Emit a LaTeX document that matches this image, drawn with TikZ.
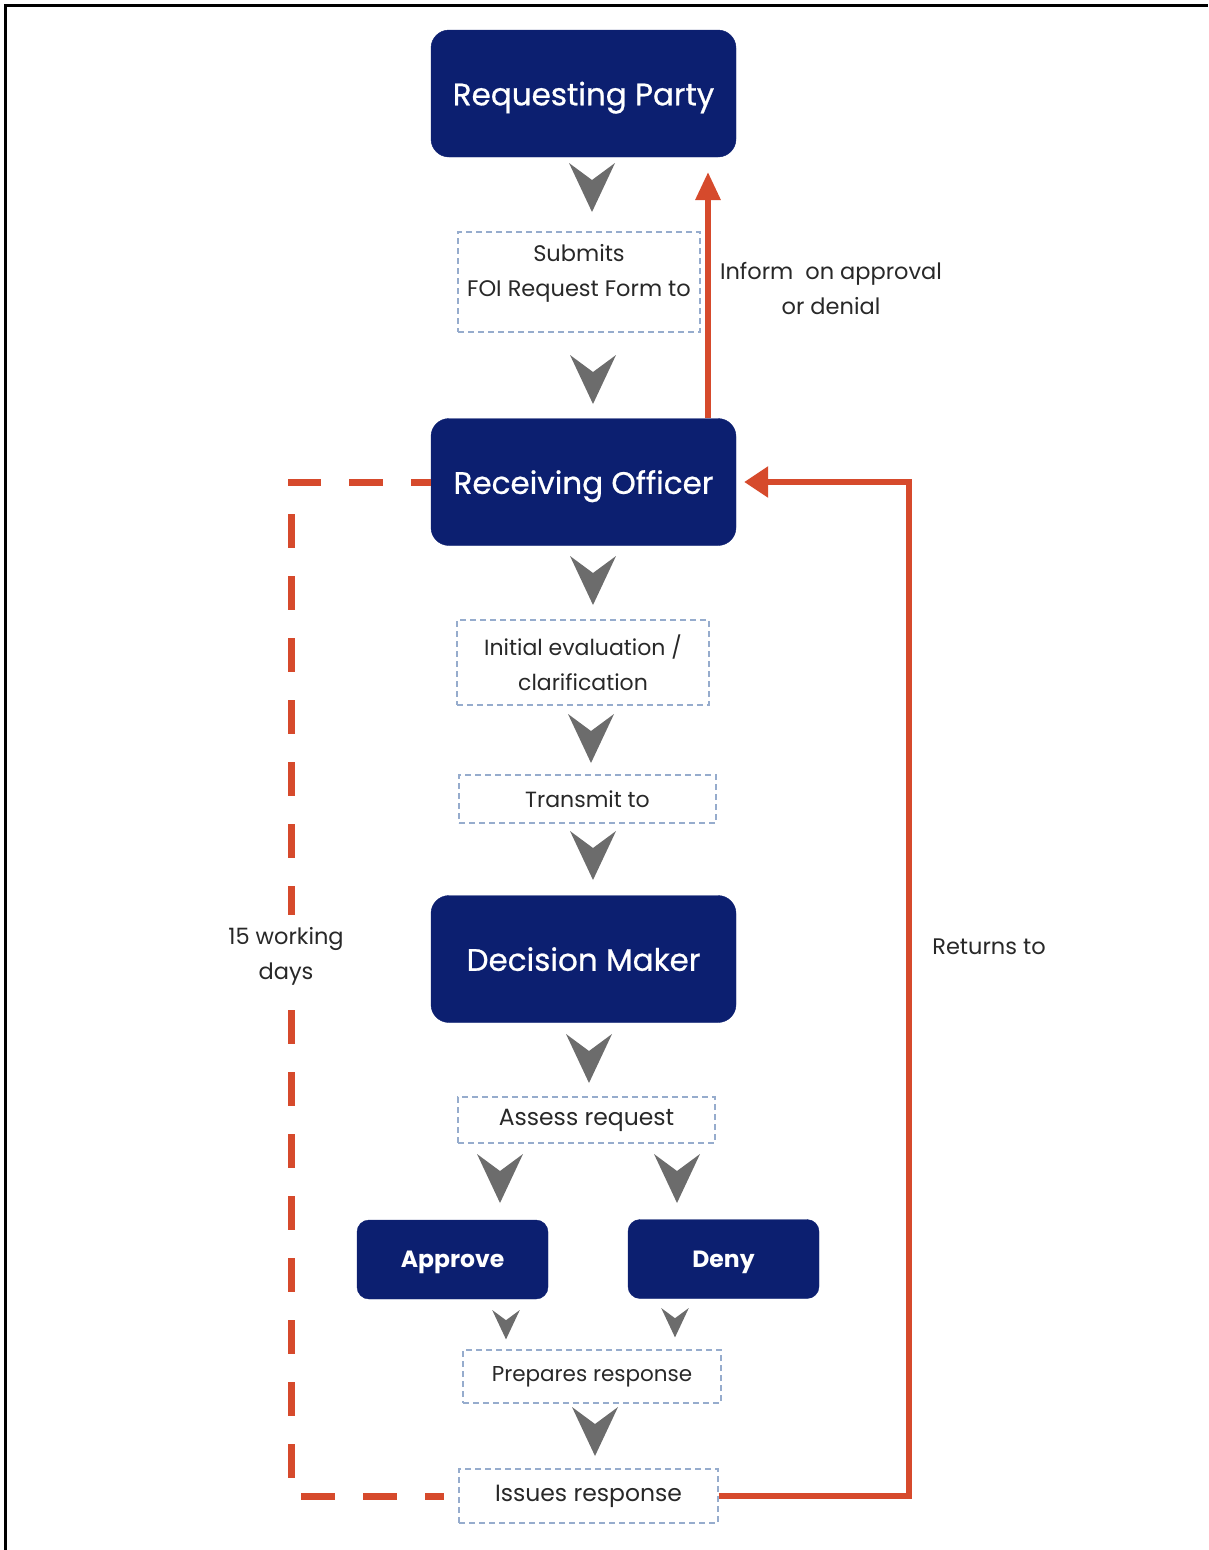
\documentclass[tikz,border=0pt]{standalone}
\usepackage{fontspec}
\setmainfont{Poppins}
\newfontfamily\titlefont{Poppins}[FakeBold=0.7]
\usetikzlibrary{arrows.meta,calc}
\definecolor{navy}{RGB}{12,31,112}
\definecolor{redo}{RGB}{214,74,44}
\definecolor{chevgray}{RGB}{108,108,108}
\definecolor{dashblue}{RGB}{150,172,205}
\definecolor{txt}{RGB}{40,40,40}
\begin{document}
\begin{tikzpicture}[x=1pt,y=-1pt,
  bigbox/.style={draw=navy, fill=navy, rounded corners=18pt, text=white,
    minimum width=305pt, minimum height=127pt, inner sep=0pt, text depth=0pt,
    font=\titlefont\fontsize{31}{36}\selectfont},
  smallbox/.style={draw=navy, fill=navy, rounded corners=12pt, text=white,
    minimum width=191pt, minimum height=79pt, inner sep=0pt, text depth=0pt,
    font=\bfseries\fontsize{23.5}{28}\selectfont},
  dbox/.style={draw=dashblue, dash pattern=on 6pt off 4pt, line width=1.3pt,
    text=txt, align=center, inner sep=0pt, font=\fontsize{22}{35}\selectfont},
  lbl/.style={text=txt, align=center, inner sep=2pt, font=\fontsize{22.5}{35}\selectfont},
  redline/.style={draw=redo, line width=6pt},
  reddash/.style={draw=redo, line width=7pt, dash pattern=on 34pt off 28pt, dash phase=14pt},
  chev/.pic={\fill[chevgray] (-23,-25) -- (0,-8) -- (23,-25) -- (0,24) -- cycle;}
]
\useasboundingbox (0,0) rectangle (1208,1550);
\draw[line width=3pt] (5.5,1550) -- (5.5,5.5) -- (1208,5.5);

% main boxes
\node[bigbox] (rp) at (583.5,93.5) {Requesting Party};
\node[bigbox] (ro) at (583.5,482) {Receiving Officer};
\node[bigbox] (dm) at (583.5,959) {Decision Maker};
\node[smallbox] (ap) at (452.5,1259.5) {Approve};
\node[smallbox] (dn) at (723.5,1259) {Deny};

% dashed step boxes
\node[dbox, minimum width=242pt, minimum height=100pt] (sub) at (579,282) {};
\node[lbl] (subt) at (579,273.5) {Submits\\FOI Request Form to};
\node[dbox, minimum width=252pt, minimum height=85pt] (ie) at (583,662.5) {Initial evaluation /\\clarification};
\node[dbox, minimum width=257pt, minimum height=48pt] (tr) at (587.5,799) {Transmit to};
\node[dbox, minimum width=257pt, minimum height=46pt, font=\fontsize{23.5}{28}\selectfont] (ar) at (586.5,1120) {Assess request};
\node[dbox, minimum width=258pt, minimum height=53pt, font=\fontsize{21.5}{26}\selectfont] (pr) at (592,1376.5) {Prepares response};
\node[dbox, minimum width=259pt, minimum height=54pt, font=\fontsize{23.5}{28}\selectfont] (ir) at (588.5,1496) {Issues response};

% chevrons
\pic at (592,188) {chev};
\pic at (593,380) {chev};
\pic at (593,581) {chev};
\pic at (591,739) {chev};
\pic at (593,856) {chev};
\pic at (589,1059) {chev};
\pic at (500,1179) {chev};
\pic at (677,1179) {chev};
\pic[scale=0.6] at (506,1325) {chev};
\pic[scale=0.6] at (675,1323) {chev};
\pic at (595,1432) {chev};

% red connectors
\coordinate (itip) at (708,172);
\draw[redline, -{Triangle[width=24pt,length=28pt]}] (ro.north -| itip) -- (itip);
\coordinate (rr) at (909,0);
\draw[redline, -{Triangle[width=30pt,length=24pt]}] (ir.east) -| (rr |- ro.east) -- ([xshift=8pt]ro.east);
\coordinate (dl) at (291,0);
\draw[reddash] (ro.west) -| (dl |- ir.west) -- ([xshift=-14pt]ir.west);

% labels
\node[lbl] (inf) at (831,288.5) {Inform\ \ on approval\\or denial};
\node[lbl] (ret) at (989,947) {Returns to};
\node[lbl, fill=white, inner sep=0pt, minimum height=82pt] (wd) at (286,956) {15 working\\days};
\end{tikzpicture}
\end{document}
